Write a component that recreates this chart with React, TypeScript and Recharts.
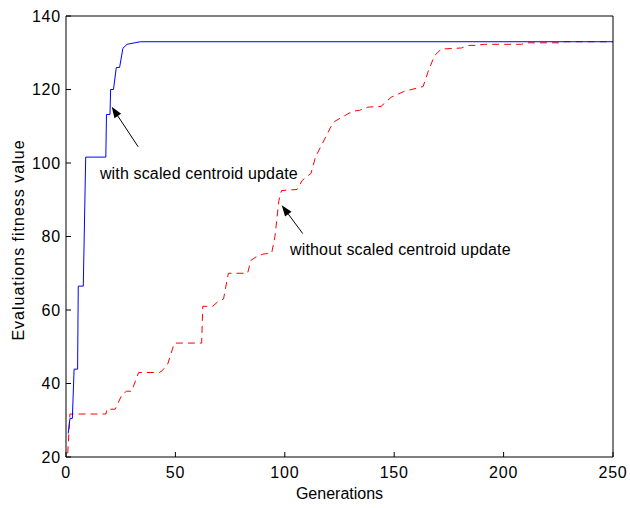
import React from 'react';
import { LineChart, Line, XAxis, YAxis, ReferenceLine, ReferenceDot, Label } from 'recharts';

// generations / best fitness
const withGen = [1, 1.8, 2.9, 3.7, 5.3, 5.6, 7.9, 9, 18.2, 18.5, 20.1, 20.4, 21.7, 23, 24.5, 26, 27.9, 34, 250];
const withVal = [26.4, 30.5, 30.5, 43.9, 43.9, 66.5, 66.5, 101.6, 101.6, 113.2, 113.2, 120, 120, 126, 126, 131.2, 132.3, 133, 133];

const withoutGen = [
    0.8, 1.8, 18.3, 18.6, 22.5, 25.6, 27.7, 30, 33.2, 42.7, 44, 46.5, 49.5, 62, 62.5, 67, 69.5, 72, 74.2, 83,
    84.5, 87, 90, 94, 95.5, 97.3, 98.5, 105.6, 108, 112, 114, 121, 123, 131, 134, 138, 144, 148.6, 154.6, 163.2,
    165.4, 168.4, 171.5, 180.8, 184, 187, 191.3, 208.3, 210, 226.6, 228, 250,
];
const withoutVal = [
    21, 31.7, 31.7, 33, 33, 37, 37.9, 37.9, 43, 43, 43.5, 45.3, 51, 51, 61, 61, 62.3, 63, 70, 70,
    73.5, 74.5, 75.2, 75.5, 80, 89.8, 92.5, 92.8, 95.3, 97.2, 101.6, 109.8, 111.4, 114.1, 114.3, 115.2, 115.4, 117.9, 119.5, 120.8,
    124.7, 129.2, 131, 131.3, 132, 132, 132.3, 132.3, 132.7, 132.7, 133, 133,
];

const xTicks = [0, 50, 100, 150, 200, 250];
const yTicks = [20, 40, 60, 80, 100, 120, 140];

const withData = withGen.map((g, i) => ({ gen: g, fitness: withVal[i] }));
const withoutData = withoutGen.map((g, i) => ({ gen: g, fitness: withoutVal[i] }));

const FONT = '"Liberation Sans", Arial, sans-serif';

// line from tail (x1,y1) to a filled head at (x2,y2)
const arrowShape = (props: any) => {
    const { x1, y1, x2, y2 } = props;
    const ang = Math.atan2(y2 - y1, x2 - x1);
    const len = 11;
    const half = 4;
    const bx = x2 - len * Math.cos(ang);
    const by = y2 - len * Math.sin(ang);
    const px = -Math.sin(ang) * half;
    const py = Math.cos(ang) * half;
    return (
        <g>
            <line x1={x1} y1={y1} x2={bx} y2={by} stroke="#000" strokeWidth={1} />
            <polygon points={`${x2},${y2} ${bx + px},${by + py} ${bx - px},${by - py}`} fill="#000" />
        </g>
    );
};

const noteShape = (text: string) => (props: any) => (
    <text x={props.cx} y={props.cy} fill="#000" fontSize={16} fontFamily={FONT} letterSpacing={0.15}>
        {text}
    </text>
);

const tickStyle = { fill: '#000', fontSize: 16, fontFamily: FONT, letterSpacing: 0.8 };

export default function App() {
    return (
        <div style={{ position: 'absolute', left: 0, top: 0, background: '#fff' }}>
            <LineChart width={630} height={508} margin={{ top: 15, right: 16, bottom: 0, left: 0 }}>
                <XAxis
                    dataKey="gen"
                    type="number"
                    domain={[0, 250]}
                    ticks={xTicks}
                    interval={0}
                    allowDataOverflow
                    height={51}
                    axisLine={{ stroke: '#000' }}
                    tickLine={{ stroke: '#000' }}
                    tickSize={-5}
                    tickMargin={15}
                    tick={tickStyle}
                >
                    <Label
                        content={() => (
                            <text x={339.5} y={499} textAnchor="middle" fill="#000" fontSize={16} fontFamily={FONT}>
                                Generations
                            </text>
                        )}
                    />
                </XAxis>
                <XAxis
                    xAxisId="top"
                    orientation="top"
                    type="number"
                    domain={[0, 250]}
                    ticks={xTicks}
                    interval={0}
                    height={1}
                    axisLine={{ stroke: '#000' }}
                    tickLine={{ stroke: '#000' }}
                    tickSize={-5}
                    tick={false}
                />
                <YAxis
                    type="number"
                    domain={[20, 140]}
                    ticks={yTicks}
                    interval={0}
                    allowDataOverflow
                    width={66}
                    axisLine={{ stroke: '#000' }}
                    tickLine={{ stroke: '#000' }}
                    tickSize={-5}
                    tickMargin={10}
                    tick={tickStyle}
                >
                    <Label
                        content={() => (
                            <text
                                transform="translate(24,240) rotate(-90)"
                                textAnchor="middle"
                                fill="#000"
                                fontSize={16}
                                fontFamily={FONT}
                                letterSpacing={1}
                            >
                                Evaluations fitness value
                            </text>
                        )}
                    />
                </YAxis>
                <YAxis
                    yAxisId="right"
                    orientation="right"
                    type="number"
                    domain={[20, 140]}
                    ticks={yTicks}
                    interval={0}
                    width={1}
                    axisLine={{ stroke: '#000' }}
                    tickLine={{ stroke: '#000' }}
                    tickSize={-5}
                    tick={false}
                />

                <Line
                    data={withoutData}
                    dataKey="fitness"
                    type="linear"
                    stroke="#ff0000"
                    strokeWidth={1}
                    strokeDasharray="7 5"
                    dot={false}
                    activeDot={false}
                    isAnimationActive={false}
                />
                <Line
                    data={withData}
                    dataKey="fitness"
                    type="linear"
                    stroke="#0000ff"
                    strokeWidth={1}
                    dot={false}
                    activeDot={false}
                    isAnimationActive={false}
                />

                <ReferenceLine segment={[{ x: 33, y: 104.4 }, { x: 20.9, y: 115.3 }]} shape={arrowShape} />
                <ReferenceLine segment={[{ x: 108.2, y: 80.8 }, { x: 98.6, y: 88.5 }]} shape={arrowShape} />
                <ReferenceDot x={15.5} y={95.6} shape={noteShape('with scaled centroid update')} />
                <ReferenceDot x={102.4} y={74.9} shape={noteShape('without scaled centroid update')} />
            </LineChart>
        </div>
    );
}
